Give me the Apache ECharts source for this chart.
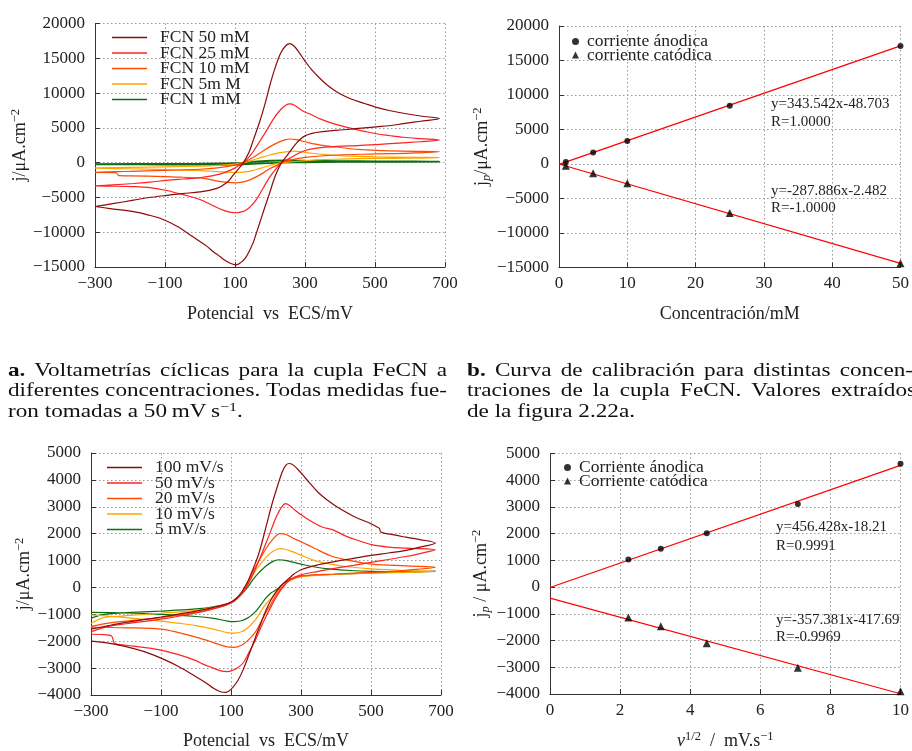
<!DOCTYPE html>
<html>
<head>
<meta charset="utf-8">
<script src="https://cdn.jsdelivr.net/npm/echarts@6/dist/echarts.min.js"></script>
<style>
html,body{margin:0;padding:0;background:#fff;}
#main{width:912px;height:751px;}
</style>
</head>
<body>
<div id="main"></div>
<script>
// ---------------- DATA ----------------
// Panel a: cyclic voltammograms, FeCN at different concentrations (E / mV, j / uA cm-2)
const concNames = ['FCN 50 mM', 'FCN 25 mM', 'FCN 10 mM', 'FCN 5m M', 'FCN 1 mM'];
const fcn50 = [[-300,-6300],[-250,-5900],[-190,-5400],[-150,-5050],[-95,-4700],[-50,-4450],[0,-4200],[48,-3700],[76,-2900],[95,-1800],[110,-900],[124,0],[140,1500],[152,3200],[170,5800],[185,8300],[200,11200],[215,13700],[230,15700],[245,16800],[257,17100],[270,16700],[285,15700],[300,14600],[320,13300],[343,12100],[365,11100],[390,10200],[420,9400],[440,9000],[470,8500],[504,7950],[540,7500],[581,7100],[630,6700],[684,6350],
  [630,5950],[581,5600],[540,5300],[504,5150],[470,5000],[429,4800],[390,4650],[350,4450],[320,4200],[300,3850],[285,3300],[272,2600],[260,1800],[247,900],[233,0],[220,-1300],[210,-2600],[200,-4200],[190,-5700],[180,-7200],[171,-8600],[160,-10300],[152,-11500],[140,-12800],[130,-13700],[118,-14300],[103,-14700],[88,-14500],[70,-14000],[57,-13500],[38,-12800],[19,-12000],[-19,-10700],[-67,-9100],[-114,-8000],[-150,-7500],[-190,-7050],[-257,-6600],[-300,-6300]];
const fcn25 = [[-300,-3350],[-250,-3200],[-190,-3000],[-143,-2800],[-95,-2550],[-48,-2350],[0,-2150],[57,-1650],[95,-900],[110,-450],[124,0],[140,800],[152,1600],[170,3000],[190,4600],[210,6300],[230,7600],[245,8250],[257,8450],[270,8250],[295,7400],[320,6850],[345,6250],[381,5600],[429,4950],[470,4500],[504,4150],[540,3900],[581,3650],[630,3450],[684,3250],
  [630,3000],[581,2850],[504,2600],[450,2450],[390,2350],[333,2100],[300,1750],[276,1200],[257,650],[233,0],[220,-700],[200,-2000],[181,-3600],[165,-5000],[152,-5900],[138,-6600],[124,-7000],[103,-7200],[85,-7100],[70,-6900],[38,-6200],[0,-5300],[-48,-4600],[-95,-4000],[-143,-3600],[-190,-3450],[-250,-3380],[-300,-3350]];
const fcn10 = [[-300,-1400],[-240,-1300],[-200,-1250],[-100,-1100],[0,-950],[50,-750],[100,-350],[124,0],[150,700],[175,1500],[200,2300],[225,2950],[245,3300],[257,3400],[275,3300],[300,3000],[330,2650],[360,2400],[390,2250],[430,2000],[470,1850],[504,1750],[580,1650],[684,1580],
  [600,1380],[504,1250],[390,1100],[300,750],[257,350],[233,0],[215,-500],[200,-850],[175,-1650],[150,-2300],[130,-2700],[110,-2880],[100,-2900],[80,-2850],[50,-2650],[10,-2250],[-50,-2100],[-100,-2000],[-200,-1900],[-232,-1880],[-240,-1450],[-300,-1400]];
const fcn5 = [[-300,-750],[-200,-680],[-100,-600],[0,-500],[50,-400],[100,-200],[124,0],[150,350],[175,750],[200,1100],[225,1400],[250,1580],[267,1650],[290,1550],[320,1350],[360,1150],[400,1000],[450,900],[504,830],[600,760],[684,720],
  [600,650],[504,600],[400,520],[330,400],[280,200],[250,60],[233,0],[210,-250],[190,-550],[170,-850],[150,-1150],[130,-1330],[110,-1420],[90,-1400],[50,-1300],[0,-1150],[-100,-1000],[-200,-880],[-300,-800]];
const fcn1 = [[-300,-200],[-100,-170],[0,-150],[100,-80],[124,0],[150,120],[200,270],[250,320],[300,280],[400,220],[500,180],[684,150],
  [500,120],[400,100],[300,60],[233,0],[200,-60],[150,-180],[110,-280],[50,-300],[0,-290],[-100,-270],[-300,-250]];

// Panel c: cyclic voltammograms at different scan rates
const rateNames = ['100 mV/s', '50 mV/s', '20 mV/s', '10 mV/s', '5 mV/s'];
const v100 = [[-300,-1550],[-250,-1420],[-200,-1300],[-150,-1200],[-100,-1100],[-50,-990],[0,-880],[50,-740],[80,-640],[100,-540],[115,-400],[130,-180],[150,280],[165,750],[180,1280],[200,2250],[215,3000],[230,3650],[245,4250],[257,4550],[267,4610],[280,4530],[300,4260],[325,3880],[350,3520],[375,3250],[400,3020],[450,2650],[500,2370],[520,2230],[524,2200],[528,2060],[550,1990],[600,1870],[640,1780],[684,1650],
  [640,1500],[600,1380],[550,1280],[500,1190],[450,1080],[400,970],[350,845],[300,660],[280,500],[265,330],[250,160],[230,-150],[215,-450],[200,-850],[185,-1350],[170,-1850],[150,-2550],[135,-3050],[120,-3450],[100,-3790],[85,-3900],[70,-3880],[50,-3750],[30,-3560],[0,-3320],[-50,-2940],[-100,-2630],[-150,-2380],[-200,-2200],[-250,-2070],[-300,-2000]];
const v50 = [[-300,-1650],[-250,-1450],[-200,-1350],[-100,-1180],[0,-950],[50,-800],[100,-580],[130,-250],[150,150],[165,550],[180,1000],[200,1650],[215,2150],[230,2650],[245,3000],[256,3120],[270,3020],[285,2850],[300,2700],[330,2450],[360,2250],[390,2150],[430,1900],[470,1720],[502,1590],[550,1500],[600,1460],[684,1400],
  [640,1260],[600,1150],[550,1040],[500,930],[450,820],[400,720],[350,600],[300,470],[270,310],[250,40],[230,-340],[215,-700],[200,-1080],[185,-1500],[170,-1950],[150,-2450],[135,-2800],[120,-2980],[105,-3080],[90,-3130],[70,-3100],[50,-3000],[20,-2850],[0,-2720],[-50,-2500],[-100,-2330],[-150,-2230],[-200,-2150],[-232,-2090],[-242,-1800],[-270,-1750],[-300,-1740]];
const v20 = [[-300,-1450],[-250,-1330],[-200,-1250],[-100,-1120],[0,-930],[50,-780],[100,-580],[130,-230],[150,250],[165,650],[180,1000],[200,1450],[220,1800],[240,2000],[255,1980],[275,1850],[300,1700],[340,1450],[388,1160],[440,1000],[502,870],[600,800],[684,750],
  [600,640],[500,560],[400,500],[300,420],[270,280],[250,60],[230,-250],[215,-600],[200,-920],[185,-1300],[170,-1650],[150,-1950],[130,-2150],[108,-2230],[85,-2200],[50,-2050],[0,-1850],[-50,-1680],[-100,-1550],[-200,-1500],[-300,-1480]];
const v10 = [[-300,-1330],[-270,-1150],[-250,-1100],[-200,-1050],[-100,-960],[0,-850],[50,-740],[100,-570],[130,-250],[150,200],[165,520],[180,800],[200,1120],[220,1350],[240,1440],[255,1420],[275,1330],[300,1200],[340,1000],[388,860],[440,760],[502,690],[600,630],[684,600],
  [600,560],[500,530],[400,490],[300,400],[270,270],[250,80],[230,-150],[215,-400],[200,-610],[185,-900],[170,-1200],[150,-1480],[130,-1650],[110,-1700],[90,-1680],[50,-1550],[0,-1420],[-50,-1330],[-100,-1250],[-200,-1120],[-300,-1020]];
const v5 = [[-300,-1140],[-270,-1020],[-250,-980],[-200,-940],[-100,-880],[0,-800],[50,-720],[100,-570],[130,-260],[150,50],[165,330],[180,550],[200,800],[220,970],[236,1030],[255,1010],[280,930],[300,870],[340,760],[388,680],[440,630],[502,600],[600,580],[684,600],
  [600,580],[500,540],[400,490],[300,420],[270,300],[250,150],[230,-80],[215,-200],[200,-390],[185,-650],[170,-900],[150,-1120],[130,-1240],[110,-1270],[90,-1250],[50,-1150],[0,-1080],[-100,-1000],[-200,-950],[-300,-930]];

// Panel b: calibration curve
const concentration = [1, 5, 10, 25, 50];
const anodicB = [300, 1650, 3350, 8450, 17100];
const cathodicB = [-250, -1350, -2800, -7100, -14400];
const fitAnodicB = [343.542, -48.703];
const fitCathodicB = [-287.886, -2.482];
const fitTextB = ['y=343.542x-48.703', 'R=1.0000', 'y=-287.886x-2.482', 'R=-1.0000'];

// Panel d: Randles-Sevcik
const sqrtRate = [2.236, 3.162, 4.472, 7.071, 10];
const anodicD = [1030, 1430, 2010, 3105, 4610];
const cathodicD = [-1140, -1470, -2100, -3020, -3900];
const fitAnodicD = [456.428, -18.21];
const fitCathodicD = [-357.381, -417.69];
const fitTextD = ['y=456.428x-18.21', 'R=0.9991', 'y=-357.381x-417.69', 'R=-0.9969'];

// Tick settings
const potTicks = [-300, -100, 100, 300, 500, 700];
const jTicksA = [-15000, 20000, 5000];
const jTicksC = [-4000, 5000, 1000];
const concTicks = [0, 50, 10];
const rateTicks = [0, 10, 2];

// ---------------- STYLE ----------------
const FONT = "'Liberation Serif', 'Times New Roman', serif";
const palette = ['#8b0a0a', '#ff2222', '#ff4a00', '#ffa500', '#0d6e0d'];
const TXT = '#222';

function mfmt(v) { return String(v).replace('-', '\u2212'); }

function makeAxis(gridIndex, min, max, interval, isX, name, nameGap) {
  return {
    type: 'value', gridIndex: gridIndex, min: min, max: max, interval: interval,
    name: name, nameLocation: 'middle', nameGap: nameGap,
    nameTextStyle: {
      fontFamily: FONT, fontSize: 18, color: TXT,
      rich: {
        n: {fontFamily: FONT, fontSize: 18, color: TXT, lineHeight: 22},
        s: {fontFamily: FONT, fontSize: 12.5, color: TXT, lineHeight: 12, verticalAlign: 'top'},
        b: {fontFamily: FONT, fontSize: 12.5, color: TXT, lineHeight: 12, verticalAlign: 'bottom', fontStyle: 'italic'},
        i: {fontFamily: FONT, fontSize: 18, color: TXT, lineHeight: 22, fontStyle: 'italic'}
      }
    },
    axisLine: {show: true, onZero: false, lineStyle: {color: '#333', width: 1}},
    axisTick: {show: true, inside: true, length: 5, lineStyle: {color: '#333'}},
    axisLabel: {fontFamily: FONT, fontSize: 17, color: TXT, margin: isX ? 8 : 10, formatter: mfmt},
    splitLine: {show: true, lineStyle: {color: '#999', type: [1.5, 2.5], width: 1}}
  };
}

const grids = [
  {left: 95, top: 23.5, width: 350, height: 243.5},
  {left: 559, top: 26, width: 346, height: 241.5},
  {left: 91, top: 453, width: 350, height: 242},
  {left: 550, top: 453.3, width: 353, height: 241.7}
];

const xAxes = [
  makeAxis(0, potTicks[0], potTicks[potTicks.length - 1], potTicks[1] - potTicks[0], true, 'Potencial  vs  ECS/mV', 38),
  makeAxis(1, concTicks[0], concTicks[1], concTicks[2], true, 'Concentración/mM', 38),
  makeAxis(2, potTicks[0], potTicks[potTicks.length - 1], potTicks[1] - potTicks[0], true, 'Potencial  vs  ECS/mV', 37),
  makeAxis(3, rateTicks[0], rateTicks[1], rateTicks[2], true, '{i|v}{s|1/2}{n|  /  mV.s}{s|\u22121}', 36)
];
const yAxes = [
  makeAxis(0, jTicksA[0], jTicksA[1], jTicksA[2], false, '{n|j/\u03bcA.cm}{s|\u22122}', 56),
  makeAxis(1, jTicksA[0], jTicksA[1], jTicksA[2], false, '{n|j}{b|p}{n|/\u03bcA.cm}{s|\u22122}', 58),
  makeAxis(2, jTicksC[0], jTicksC[1], jTicksC[2], false, '{n|j/\u03bcA.cm}{s|\u22122}', 56),
  makeAxis(3, jTicksC[0], jTicksC[1], jTicksC[2], false, '{n|j}{b|p}{n| / \u03bcA.cm}{s|\u22122}', 50)
];

const series = [];
const cvA = [fcn50, fcn25, fcn10, fcn5, fcn1];
cvA.forEach(function (d, i) {
  series.push({name: concNames[i], type: 'line', xAxisIndex: 0, yAxisIndex: 0, data: d,
    showSymbol: false, smooth: 0.35, lineStyle: {color: palette[i], width: i === 4 ? 1.8 : 1.2},
    itemStyle: {color: palette[i]}, z: 10 - i});
});
const cvC = [v100, v50, v20, v10, v5];
cvC.forEach(function (d, i) {
  series.push({name: rateNames[i], type: 'line', xAxisIndex: 2, yAxisIndex: 2, data: d,
    showSymbol: false, smooth: 0.35, lineStyle: {color: palette[i], width: 1.2},
    itemStyle: {color: palette[i]}, z: 10 - i});
});

function fitLine(fit, x0, x1) { return [[x0, fit[0] * x0 + fit[1]], [x1, fit[0] * x1 + fit[1]]]; }
function zip(xs, ys) { return xs.map(function (x, i) { return [x, ys[i]]; }); }

[[1, concentration, anodicB, cathodicB, fitAnodicB, fitCathodicB, concTicks, ['corriente \u00e1nodica', 'corriente cat\u00f3dica']],
 [3, sqrtRate, anodicD, cathodicD, fitAnodicD, fitCathodicD, rateTicks, ['Corriente \u00e1nodica', 'Corriente cat\u00f3dica']]]
.forEach(function (p) {
  const gi = p[0];
  series.push({type: 'line', xAxisIndex: gi, yAxisIndex: gi, data: fitLine(p[4], p[6][0], p[6][1]),
    showSymbol: false, silent: true, lineStyle: {color: '#ff0000', width: 1.2}, z: 3});
  series.push({type: 'line', xAxisIndex: gi, yAxisIndex: gi, data: fitLine(p[5], p[6][0], p[6][1]),
    showSymbol: false, silent: true, lineStyle: {color: '#ff0000', width: 1.2}, z: 3});
  series.push({name: p[7][0], type: 'scatter', xAxisIndex: gi, yAxisIndex: gi, data: zip(p[1], p[2]),
    symbol: 'circle', symbolSize: 6, itemStyle: {color: '#000'}, z: 5});
  series.push({name: p[7][1], type: 'scatter', xAxisIndex: gi, yAxisIndex: gi, data: zip(p[1], p[3]),
    symbol: 'triangle', symbolSize: 8, itemStyle: {color: '#000'}, z: 5});
});

function lineLegend(names, left, top) {
  return {data: names, orient: 'vertical', left: left, top: top, padding: 0, itemGap: -2.5,
    icon: 'rect', itemWidth: 35, itemHeight: 1.5, selectedMode: false,
    textStyle: {fontFamily: FONT, fontSize: 17.5, color: TXT, lineHeight: 15.2, padding: [0, 0, 0, 8]}};
}
function symLegend(names, left, top) {
  return {data: [{name: names[0], icon: 'circle'}, {name: names[1], icon: 'triangle'}],
    orient: 'vertical', left: left, top: top, padding: 0, itemGap: -4.5, selectedMode: false,
    itemWidth: 7, itemHeight: 7,
    textStyle: {fontFamily: FONT, fontSize: 17.5, color: TXT, lineHeight: 14.5, padding: [0, 0, 0, 3]}};
}

// ---------- captions & annotations (layout) ----------
const mctx = document.createElement('canvas').getContext('2d');
function measure(t, size, bold) {
  mctx.font = (bold ? 'bold ' : '') + size + 'px ' + FONT;
  return mctx.measureText(t).width;
}
const CAP = 19;
const SX = 1.22;
function justified(tokens, x, y, width) {
  const ws = tokens.map(function (t) { return measure(t[0], CAP, t[1]) * SX; });
  const total = ws.reduce(function (a, b) { return a + b; }, 0);
  const gap = (width - total) / (tokens.length - 1);
  const out = [];
  let cx = x;
  tokens.forEach(function (t, i) {
    out.push({type: 'text', x: cx, y: y, scaleX: SX, silent: true,
      style: {text: t[0], fontFamily: FONT, fontSize: CAP, fontWeight: t[1] ? 'bold' : 'normal', fill: '#111', verticalAlign: 'middle', align: 'left'}});
    cx += ws[i] + gap;
  });
  return out;
}
function words(s, boldFirst) {
  return s.split(' ').map(function (w, i) { return [w, boldFirst && i === 0]; });
}
const captionA = ['a. Voltametrías cíclicas para la cupla FeCN a', 'diferentes concentraciones. Todas medidas fue-', 'ron tomadas a 50\u2009mV\u2009s'];
const captionB = ['b. Curva de calibración para distintas concen-', 'traciones de la cupla FeCN. Valores extraídos', 'de la figura 2.22a.'];

let graphics = [];
graphics = graphics.concat(justified(words(captionA[0], true), 8, 371, 439));
graphics = graphics.concat(justified(words(captionA[1], false), 8, 391.5, 439));
graphics.push({type: 'text', x: 8, y: 412, scaleX: SX, silent: true,
  style: {text: '{n|' + captionA[2] + '}{s|\u22121}{n|.}', verticalAlign: 'middle', align: 'left',
    rich: {n: {fontFamily: FONT, fontSize: CAP, fill: '#111', lineHeight: 22},
           s: {fontFamily: FONT, fontSize: 13, fill: '#111', lineHeight: 12, verticalAlign: 'top'}}}});
graphics = graphics.concat(justified(words(captionB[0], true), 467, 371, 446));
graphics = graphics.concat(justified(words(captionB[1], false), 467, 391.5, 449));
graphics.push({type: 'text', x: 467, y: 412, scaleX: SX, silent: true,
  style: {text: captionB[2], fontFamily: FONT, fontSize: CAP, fill: '#111', verticalAlign: 'middle', align: 'left'}});

function annot(t, x, y) {
  return {type: 'text', x: x, y: y, silent: true, z: 20,
    style: {text: t, fontFamily: FONT, fontSize: 15, fill: TXT, verticalAlign: 'middle', align: 'left'}};
}
graphics.push(annot(fitTextB[0], 771, 104.5));
graphics.push(annot(fitTextB[1], 771, 122));
graphics.push(annot(fitTextB[2], 771, 191.5));
graphics.push(annot(fitTextB[3], 771, 208.5));
graphics.push(annot(fitTextD[0], 776, 527.5));
graphics.push(annot(fitTextD[1], 776, 546));
graphics.push(annot(fitTextD[2], 776, 620));
graphics.push(annot(fitTextD[3], 776, 637.5));

const chart = echarts.init(document.getElementById('main'), null, {renderer: 'canvas'});
chart.setOption({
  backgroundColor: '#fff',
  animation: false,
  grid: grids,
  xAxis: xAxes,
  yAxis: yAxes,
  legend: [
    lineLegend(concNames, 112, 28.5),
    symLegend(['corriente \u00e1nodica', 'corriente cat\u00f3dica'], 572, 32.5),
    lineLegend(rateNames, 107, 458.5),
    symLegend(['Corriente \u00e1nodica', 'Corriente cat\u00f3dica'], 564, 458.5)
  ],
  series: series,
  graphic: graphics
});
</script>
</body>
</html>
